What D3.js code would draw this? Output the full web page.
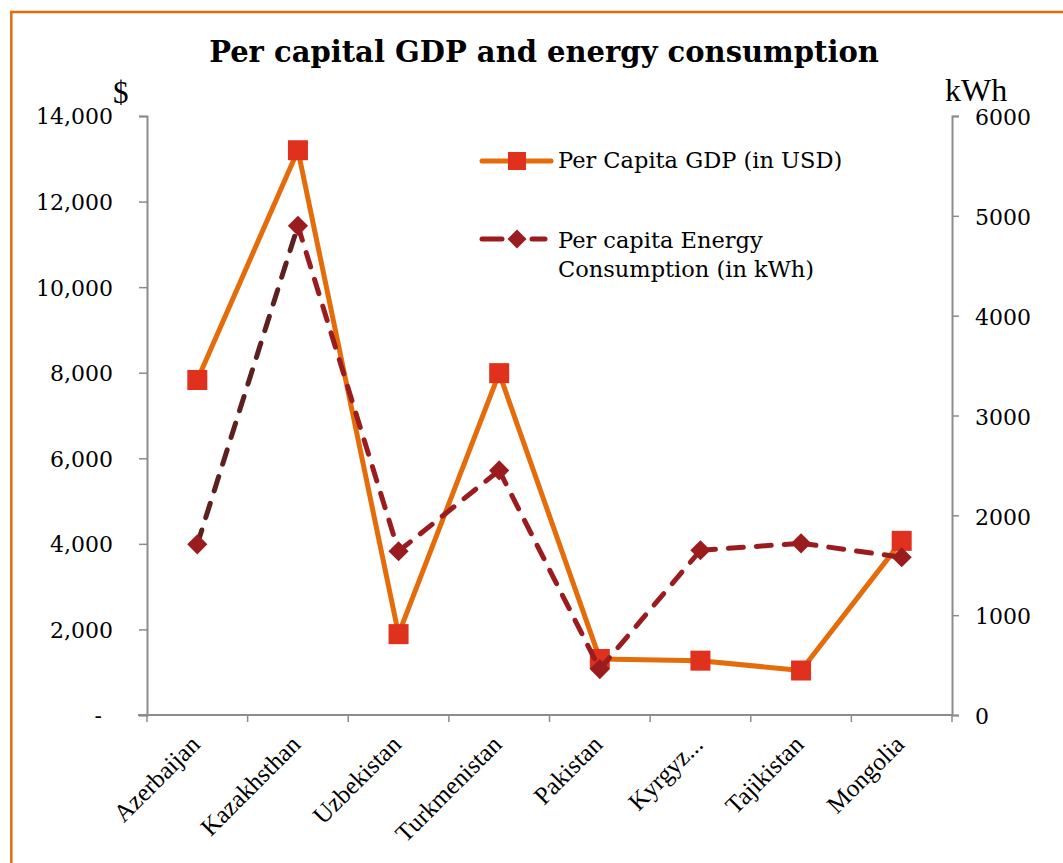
<!DOCTYPE html>
<html>
<head>
<meta charset="utf-8">
<script src="https://cdn.jsdelivr.net/npm/d3@7"></script>
<style>
  html, body { margin: 0; padding: 0; background: #fff; }
  svg { display: block; }
</style>
</head>
<body>
<svg id="chart" width="1063" height="863"></svg>
<script>
// ---- data ----
const categories = ["Azerbaijan", "Kazakhsthan", "Uzbekistan", "Turkmenistan", "Pakistan", "Kyrgyz...", "Tajikistan", "Mongolia"];
const gdpValues = [7830, 13200, 1890, 7990, 1310, 1270, 1040, 4070];
const energyValues = [1710, 4900, 1640, 2450, 460, 1650, 1720, 1580];
const leftTicks = [0, 2000, 4000, 6000, 8000, 10000, 12000, 14000];
const rightTicks = [0, 1000, 2000, 3000, 4000, 5000, 6000];
const seriesNames = ["Per Capita GDP (in USD)", ["Per capita Energy", "Consumption (in kWh)"]];

// ---- layout ----
const svg = d3.select("#chart");
const W = 1063, H = 863;
const plot = { left: 147, right: 952, top: 116, bottom: 715 };
const serif = "'DejaVu Serif', serif";
const times = "'Liberation Serif', 'Times New Roman', serif";
const gray = "#8c8c8c";
const orange = "#e46c0a";
const sqColor = "#e0301e";
const dmColor = "#9b1c1f";
const darkSeg = "#5e1f1f";

svg.append("rect").attr("x", 0).attr("y", 0).attr("width", W).attr("height", H).attr("fill", "#fff");
svg.append("rect").attr("x", 11.3).attr("y", 12).attr("width", W + 20).attr("height", H + 20)
  .attr("fill", "none").attr("stroke", orange).attr("stroke-width", 2.5);

svg.append("text").attr("x", 544).attr("y", 62).attr("text-anchor", "middle")
  .attr("font-family", serif).attr("font-weight", "bold").attr("font-size", 29)
  .attr("fill", "#000").text("Per capital GDP and energy consumption");

const x = d3.scaleBand().domain(categories).range([plot.left, plot.right]).padding(0);
const yL = d3.scaleLinear().domain([0, 14000]).range([plot.bottom, plot.top]);
const yR = d3.scaleLinear().domain([0, 6000]).range([plot.bottom, plot.top]);
const cx = d => x(d) + x.bandwidth() / 2;

// left axis
const axL = svg.append("g").attr("transform", `translate(${plot.left},0)`)
  .call(d3.axisLeft(yL).tickValues(leftTicks).tickSizeOuter(0).tickSize(8)
    .tickFormat(d => d === 0 ? "-" : d3.format(",")(d)));
axL.select(".domain").attr("stroke", gray).attr("stroke-width", 2);
axL.selectAll(".tick line").attr("stroke", gray).attr("stroke-width", 1.5);
axL.selectAll(".tick text").attr("font-family", serif).attr("font-size", 22).attr("fill", "#000")
  .attr("x", -34).attr("dy", "0.36em");
axL.selectAll(".tick text").filter(d => d === 0).attr("x", -45);

// right axis
const axR = svg.append("g").attr("transform", `translate(${plot.right},0)`)
  .call(d3.axisRight(yR).tickValues(rightTicks).tickSizeOuter(0).tickSize(7).tickFormat(d3.format("d")));
axR.select(".domain").attr("stroke", gray).attr("stroke-width", 2);
axR.selectAll(".tick line").attr("stroke", gray).attr("stroke-width", 1.5);
axR.selectAll(".tick text").attr("font-family", serif).attr("font-size", 22).attr("fill", "#000")
  .attr("x", 23).attr("dy", "0.40em");

// bottom axis
const axB = svg.append("g").attr("transform", `translate(0,${plot.bottom})`)
  .call(d3.axisBottom(x).tickSize(0).tickSizeOuter(0).tickFormat(""));
axB.select(".domain").attr("stroke", gray).attr("stroke-width", 2)
  .attr("d", `M${plot.left - 9},0H${plot.right + 1}`);
const tickPos = categories.map(c => x(c)).concat([plot.right]);
axB.selectAll("line.cat").data(tickPos).enter().append("line").attr("class", "cat")
  .attr("x1", d => d).attr("x2", d => d).attr("y1", 0).attr("y2", 7)
  .attr("stroke", gray).attr("stroke-width", 1.5);
axB.selectAll("text.cat").data(categories).enter().append("text").attr("class", "cat")
  .attr("transform", d => `translate(${cx(d) + 4},${31}) rotate(-45)`)
  .attr("text-anchor", "end").attr("font-family", times).attr("font-size", 25).attr("fill", "#000")
  .text(d => d);

// unit labels
svg.append("text").attr("x", 113).attr("y", 103).attr("font-family", times).attr("font-size", 31).text("$");
svg.append("text").attr("x", 945).attr("y", 101).attr("font-family", times).attr("font-size", 32).text("kWh");

// GDP line
const lineL = d3.line().x((d, i) => cx(categories[i])).y(d => yL(d));
svg.append("path").datum(gdpValues).attr("d", lineL).attr("fill", "none")
  .attr("stroke", orange).attr("stroke-width", 5).attr("stroke-linejoin", "round");
const sq = 20;
svg.selectAll("rect.gdp").data(gdpValues).enter().append("rect").attr("class", "gdp")
  .attr("x", (d, i) => cx(categories[i]) - sq / 2).attr("y", d => yL(d) - sq / 2)
  .attr("width", sq).attr("height", sq).attr("fill", sqColor);

// Energy line (segments)
const lineR = d3.line().x(d => cx(d.c)).y(d => yR(d.v));
const pts = energyValues.map((v, i) => ({ c: categories[i], v }));
svg.selectAll("path.en").data(d3.pairs(pts)).enter().append("path").attr("class", "en")
  .attr("d", d => lineR(d)).attr("fill", "none")
  .attr("stroke", (d, i) => i === 0 ? darkSeg : dmColor).attr("stroke-width", 5)
  .attr("stroke-dasharray", "15 13").attr("stroke-linecap", "round");
const diamond = d3.symbol().type(d3.symbolDiamond2).size(260);
svg.selectAll("path.dm").data(pts).enter().append("path").attr("class", "dm")
  .attr("d", diamond).attr("transform", d => `translate(${cx(d.c)},${yR(d.v)})`).attr("fill", dmColor);

// legend
const lg = svg.append("g");
lg.append("line").attr("x1", 482).attr("x2", 551).attr("y1", 161).attr("y2", 161)
  .attr("stroke", orange).attr("stroke-width", 5).attr("stroke-linecap", "round");
lg.append("rect").attr("x", 517 - 9).attr("y", 161 - 9).attr("width", 18).attr("height", 18).attr("fill", sqColor);
lg.append("text").attr("x", 558).attr("y", 168).attr("font-family", serif).attr("font-size", 22.5).text(seriesNames[0]);

lg.append("line").attr("x1", 482).attr("x2", 502).attr("y1", 239).attr("y2", 239)
  .attr("stroke", dmColor).attr("stroke-width", 5).attr("stroke-linecap", "round");
lg.append("line").attr("x1", 532).attr("x2", 545).attr("y1", 239).attr("y2", 239)
  .attr("stroke", dmColor).attr("stroke-width", 5).attr("stroke-linecap", "round");
lg.append("path").attr("d", d3.symbol().type(d3.symbolDiamond2).size(230)).attr("transform", "translate(517,239)").attr("fill", dmColor);
const t2 = lg.append("text").attr("font-family", serif).attr("font-size", 22.5);
t2.append("tspan").attr("x", 558).attr("y", 248).text(seriesNames[1][0]);
t2.append("tspan").attr("x", 558).attr("y", 277).text(seriesNames[1][1]);
</script>
</body>
</html>
